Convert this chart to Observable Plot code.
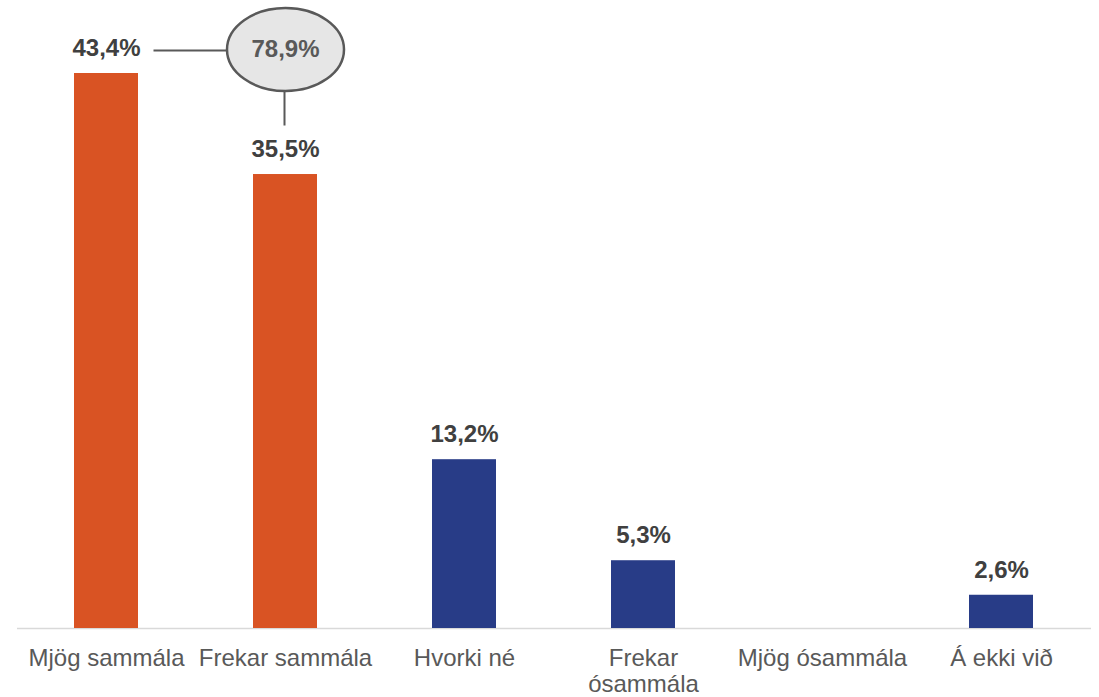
<!DOCTYPE html>
<html>
<head>
<meta charset="utf-8">
<script src="https://cdn.jsdelivr.net/npm/d3@7"></script>
<script src="https://cdn.jsdelivr.net/npm/@observablehq/plot@0.6"></script>
<style>
  html, body { margin: 0; padding: 0; background: #fff; }
  #chart { width: 1099px; height: 697px; }
</style>
</head>
<body>
<div id="chart"></div>
<script>
// ---- data ----
const categories = ["Mjög sammála", "Frekar sammála", "Hvorki né", "Frekar ósammála", "Mjög ósammála", "Á ekki við"];
const tickLabels = ["Mjög sammála", "Frekar sammála", "Hvorki né", "Frekar\nósammála", "Mjög ósammála", "Á ekki við"];
const values = [43.4, 35.5, 13.2, 5.3, 0, 2.6];
const groups = ["agree", "agree", "other", "other", "other", "other"];
const calloutCategory = ["Frekar sammála"];
const calloutValue = [78.9];
const calloutAnchorValue = [43.4];

// ---- build table ----
const data = categories.map((c, i) => ({category: c, value: values[i], group: groups[i]}));
const labelMap = new Map(categories.map((c, i) => [c, tickLabels[i]]));
const fmt = v => v.toFixed(1).replace(".", ",") + "%";
const callout = calloutCategory.map((c, i) => ({category: c, y: calloutAnchorValue[i], text: fmt(calloutValue[i])}));

// ellipse symbol (bezier approximation)
const ellipseSymbol = {
  draw(ctx) {
    const rx = 58.5, ry = 41.5, k = 0.5523;
    ctx.moveTo(rx, 0);
    ctx.bezierCurveTo(rx, ry * k, rx * k, ry, 0, ry);
    ctx.bezierCurveTo(-rx * k, ry, -rx, ry * k, -rx, 0);
    ctx.bezierCurveTo(-rx, -ry * k, -rx * k, -ry, 0, -ry);
    ctx.bezierCurveTo(rx * k, -ry, rx, -ry * k, rx, 0);
    ctx.closePath();
  }
};
// connector lines of the callout
const connectorSymbol = {
  draw(ctx) {
    ctx.moveTo(-132, 1);
    ctx.lineTo(-59, 1);
    ctx.moveTo(-1, 42);
    ctx.lineTo(-1, 76);
  }
};

const font = "'Liberation Sans', Arial, sans-serif";

const chart = Plot.plot({
  width: 1099,
  height: 697,
  marginLeft: 17,
  marginRight: 8,
  marginTop: 73,
  marginBottom: 69,
  style: {fontFamily: font, background: "#fff"},
  x: {domain: categories, paddingInner: 0.64, paddingOuter: 0.32},
  y: {domain: [0, 43.4], axis: null},
  color: {domain: ["agree", "other"], range: ["#d95323", "#283c87"]},
  marks: [
    Plot.ruleY([0], {stroke: "#d9d9d9", strokeWidth: 1.5}),
    Plot.barY(data, {x: "category", y: "value", fill: "group"}),
    Plot.text(data.filter(d => d.value > 0), {
      x: "category", y: "value", text: d => fmt(d.value),
      dy: -25, fontSize: 24, fontWeight: "bold", fill: "#404040", fontFamily: font
    }),
    Plot.dot(callout, {x: "category", y: "y", dy: -24, symbol: connectorSymbol, r: 10, fill: "none", stroke: "#595959", strokeWidth: 2}),
    Plot.dot(callout, {x: "category", y: "y", dy: -24, symbol: ellipseSymbol, r: 10, fill: "#e6e6e6", stroke: "#595959", strokeWidth: 2.5}),
    Plot.text(callout, {
      x: "category", y: "y", text: "text", dy: -24,
      fontSize: 24, fontWeight: "bold", fill: "#595959", fontFamily: font
    }),
    Plot.axisX({
      tickSize: 0, tickPadding: 20, fontSize: 24, lineHeight: 1.05,
      color: "#595959", label: null, fontFamily: font,
      tickFormat: c => labelMap.get(c)
    })
  ]
});
document.getElementById("chart").appendChild(chart);
</script>
</body>
</html>
